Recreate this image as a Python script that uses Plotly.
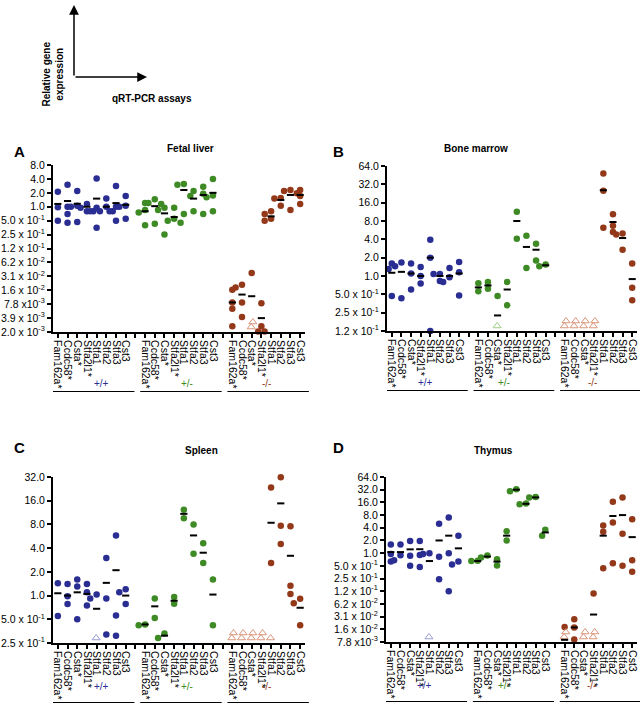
import math
import plotly.graph_objects as go

W, H = 640, 709
FONT = "Liberation Sans, Arial, sans-serif"
TICK_SIZE = 10.5

GENES = ["Fam162a*", "Ccdc58*", "Csta*", "Stfa2l1*", "Stfa1", "Stfa2", "Stfa3", "Cst3"]
GENOTYPES = ["+/+", "+/-", "-/-"]
GENO_COLORS = ["#2a2d92", "#3e8a24", "#93391a"]
ND_COLORS = ["#9a9cd6", "#9ccf84", "#d9957a"]

TICK_EXPONENTS = list(range(-9, 7))
TICK_LABELS = ["2.0 x 10<sup>-3</sup>", "3.9 x 10<sup>-3</sup>", "7.8 x10<sup>-3</sup>",
               "1.6 x 10<sup>-2</sup>", "3.1 x 10<sup>-2</sup>", "6.2 x 10<sup>-2</sup>",
               "1.2 x 10<sup>-1</sup>", "2.5 x 10<sup>-1</sup>", "5.0 x 10<sup>-1</sup>",
               "1.0", "2.0", "4.0", "8.0", "16.0", "32.0", "64.0"]

# ---------------- Fetal liver ----------------
FL_WT = [[2.1, 0.97, 0.8, 0.5], [3.0, 1.0, 0.7, 0.45], [2.2, 1.05, 1.0, 0.47], [1.15, 0.95, 0.8, 0.8],
         [4.1, 0.95, 0.8, 0.35], [1.5, 1.0, 0.8, 0.8], [2.8, 1.0, 0.8, 0.5], [1.7, 1.05, 1.0, 0.55]]
FL_WT_MEAN = [1.15, 1.33, 1.16, 1.0, 1.5, 1.0, 1.2, 1.1]
FL_HET = [[1.2, 0.85, 0.75, 0.4], [1.45, 1.2, 1.15, 0.43], [0.95, 0.85, 0.25], [0.95, 0.55, 0.5, 0.45],
          [3.1, 3.0, 0.7], [2.2, 1.7, 0.8], [2.7, 1.9, 0.7], [4.0, 1.75, 1.6, 0.8]]
FL_HET_MEAN = [0.8, 1.03, 0.72, 0.6, 2.3, 1.5, 1.8, 2.0]
FL_KO = [[0.016, 0.0085, 0.0062, 0.0026], [0.0206, 0.018, 0.0085, 0.0041], [0.037],
         [0.0082, 0.0026, 0.002, 0.002], [0.8, 0.7, 0.55, 0.5], [1.55, 1.5, 1.05],
         [2.3, 2.2, 1.95, 0.85], [2.3, 1.7, 1.15]]
FL_KO_MEAN = [0.0085, 0.0126, 0.0116, 0.0039, 0.62, 1.4, 1.8, 1.8]
FL_ND = [[0] * 8, [0] * 8, [0, 0, 2, 0, 0, 0, 0, 0]]

# ---------------- Bone marrow ----------------
BM_WT = [[1.6, 1.3, 0.47], [1.67, 1.45, 0.43], [1.6, 1.1, 0.6], [1.4, 1.0, 0.75],
         [3.95, 2.0, 0.125], [1.08, 1.08, 0.83], [1.35, 0.95, 0.8], [1.7, 1.15, 0.48]]
BM_WT_MEAN = [1.13, 1.17, 1.1, 1.0, 2.0, 1.0, 1.0, 1.1]
BM_HET = [[0.76, 0.56], [0.8, 0.62], [0.47], [0.8, 0.33], [11.4, 4.1], [4.6, 1.35], [3.4, 1.8], [1.55, 1.45]]
BM_HET_MEAN = [0.65, 0.7, 0.225, 0.6, 8.0, 3.0, 2.7, 1.5]
BM_KO = [[], [], [], [], [48, 25, 6.2], [10.3, 6.7, 5.3], [5.0, 4.8, 2.7], [1.6, 0.64, 0.4]]
BM_KO_MEAN = [None, None, None, None, 25.6, 7.7, 4.2, 0.89]
BM_ND = [[0] * 8, [0, 0, 1, 0, 0, 0, 0, 0], [2, 2, 2, 2, 0, 0, 0, 0]]

# ---------------- Spleen ----------------
SP_WT = [[1.43, 1.3, 0.55], [1.4, 0.98, 0.78], [1.6, 1.3, 0.5], [1.4, 1.1, 0.75],
         [1.03, 0.92], [3.0, 0.92, 0.32], [5.8, 0.56, 0.31], [1.2, 1.1, 0.78]]
SP_WT_MEAN = [1.07, 1.0, 1.1, 1.05, 0.68, 1.45, 2.1, 1.0]
SP_HET = [[0.43, 0.42], [0.92, 0.52], [0.33, 0.29], [0.96, 0.79], [12.3, 9.6], [8.0, 3.4], [4.6, 2.6], [1.6, 0.42]]
SP_HET_MEAN = [0.43, 0.73, 0.31, 0.86, 10.9, 5.8, 3.5, 1.03]
SP_KO = [[], [], [], [], [23.5, 2.6], [31.7, 7.7, 4.5], [7.6, 1.33, 1.05], [0.91, 0.8, 0.42]]
SP_KO_MEAN = [None, None, None, None, 8.4, 14.8, 3.2, 0.7]
SP_ND = [[0, 0, 0, 0, 1, 0, 0, 0], [0] * 8, [2, 2, 2, 2, 1, 0, 0, 0]]

# ---------------- Thymus ----------------
TH_WT = [[1.6, 0.95, 0.63], [1.6, 0.89, 0.68], [1.93, 0.87, 0.5], [1.93, 0.9, 0.47],
         [1.0, 0.95], [5.0, 0.82, 0.24], [7.0, 1.0, 0.125], [2.6, 0.63, 0.54]]
TH_WT_MEAN = [1.06, 1.06, 1.23, 1.24, 0.65, 2.0, 2.6, 1.3]
TH_HET = [[0.65, 0.66], [0.79, 0.88], [0.72, 0.51], [3.3, 2.0], [29.5, 33.0], [14.5, 15.0], [21.0, 21.5], [3.6, 2.6]]
TH_HET_MEAN = [0.65, 0.83, 0.63, 2.6, 32.0, 14.8, 21.0, 3.1]
TH_KO = [[0.0177], [0.027, 0.0173, 0.0089], [], [0.11], [4.5, 3.2, 0.44], [16.5, 5.3, 0.58],
         [21.0, 2.9, 0.5], [6.4, 0.68, 0.36]]
TH_KO_MEAN = [0.0088, 0.0173, None, 0.035, 2.6, 7.6, 8.0, 2.4]
TH_ND = [[0, 0, 0, 0, 1, 0, 0, 0], [0] * 8, [2, 0, 2, 2, 0, 0, 0, 0]]

PANELS = [
    dict(letter="A", title="Fetal liver", groups=[FL_WT, FL_HET, FL_KO],
         means=[FL_WT_MEAN, FL_HET_MEAN, FL_KO_MEAN], nd=FL_ND, exp=(-9, 3),
         box=(53, 305, 165, 332), title_xy=(165, 141), letter_xy=(12, 141)),
    dict(letter="B", title="Bone marrow", groups=[BM_WT, BM_HET, BM_KO],
         means=[BM_WT_MEAN, BM_HET_MEAN, BM_KO_MEAN], nd=BM_ND, exp=(-3, 6),
         box=(387, 637, 166, 331), title_xy=(510, 141), letter_xy=(331, 141)),
    dict(letter="C", title="Spleen", groups=[SP_WT, SP_HET, SP_KO],
         means=[SP_WT_MEAN, SP_HET_MEAN, SP_KO_MEAN], nd=SP_ND, exp=(-2, 5),
         box=(53, 305, 477, 643), title_xy=(183, 450), letter_xy=(12, 447)),
    dict(letter="D", title="Thymus", groups=[TH_WT, TH_HET, TH_KO],
         means=[TH_WT_MEAN, TH_HET_MEAN, TH_KO_MEAN], nd=TH_ND, exp=(-7, 6),
         box=(386, 637, 477, 642), title_xy=(515, 450), letter_xy=(331, 447)),
]

XMIN, XMAX = -0.5, 25.5
N_POS = 26
BAR_HALF = 0.37
DOT = 6.5


def px(x):
    return x / W


def py(y):
    return 1 - y / H


fig = go.Figure()
annotations = []
shapes = []

for k, P in enumerate(PANELS):
    sfx = "" if k == 0 else str(k + 1)
    xa, ya = "x" + sfx, "y" + sfx
    x0, x1, y0, y1 = P["box"]
    lo, hi = P["exp"]
    ylo, yhi = lo * math.log10(2), hi * math.log10(2)
    px_per_dec = (y1 - y0) / (yhi - ylo)
    px_per_cat = (x1 - x0) / (XMAX - XMIN)

    for g in range(3):
        xs, ys = [], []
        bx, by = [], []
        tx, ty = [], []
        for j in range(8):
            pos = g * 9 + j
            vals = sorted(P["groups"][g][j], reverse=True)
            placed = []
            for v in vals:
                ypix = math.log10(v) * px_per_dec
                for slot in [0, -0.33, 0.33, -0.66, 0.66]:
                    ok = True
                    for (sx, sy) in placed:
                        dx = (slot - sx) * px_per_cat
                        dy = ypix - sy
                        if dx * dx + dy * dy < (DOT - 0.5) ** 2:
                            ok = False
                            break
                    if ok:
                        break
                placed.append((slot, ypix))
                xs.append(pos + slot)
                ys.append(v)
            m = P["means"][g][j]
            if m is not None:
                bx += [pos - BAR_HALF, pos + BAR_HALF, None]
                by += [m, m, None]
            nd = P["nd"][g][j]
            base = 10 ** ylo
            for n in range(nd):
                tx.append(pos + (0.12 if n % 2 else -0.05))
                ty.append(base * 10 ** ((5 + 5 * n) / px_per_dec))
        fig.add_trace(go.Scatter(x=xs, y=ys, mode="markers", xaxis=xa, yaxis=ya,
                                 marker=dict(size=DOT, color=GENO_COLORS[g]),
                                 showlegend=False, cliponaxis=False, hoverinfo="y"))
        if tx:
            fig.add_trace(go.Scatter(x=tx, y=ty, mode="markers", xaxis=xa, yaxis=ya,
                                     marker=dict(size=7, symbol="triangle-up-open",
                                                 color=ND_COLORS[g], line=dict(width=1)),
                                     showlegend=False, cliponaxis=False, hoverinfo="skip"))
        if bx:
            fig.add_trace(go.Scatter(x=bx, y=by, mode="lines", xaxis=xa, yaxis=ya,
                                     line=dict(color="black", width=2),
                                     showlegend=False, cliponaxis=False, hoverinfo="skip"))

        # genotype label and underline
        gx0 = g * 9
        cx = x0 + (gx0 + 3.5 - XMIN) * px_per_cat
        annotations.append(dict(x=px(cx), y=py(y1 + 51), xref="paper", yref="paper",
                                text=GENOTYPES[g], showarrow=False,
                                font=dict(size=10, color=GENO_COLORS[g], family=FONT)))
        lx0 = x0 + (gx0 - 0.5 - XMIN) * px_per_cat
        lx1 = x0 + (gx0 + 7.9 - XMIN) * px_per_cat
        ly = round(y1 + 59) + 0.5
        shapes.append(dict(type="line", xref="paper", yref="paper",
                           x0=px(lx0), x1=px(lx1), y0=py(ly), y1=py(ly),
                           line=dict(color="black", width=1)))

    tickvals_x = list(range(N_POS))
    ticktext_x = []
    for p in range(N_POS):
        ticktext_x.append(GENES[p % 9] if p % 9 < 8 else "")

    exps = [e for e in TICK_EXPONENTS if lo <= e <= hi]
    fig.update_layout(**{
        "xaxis" + sfx: dict(domain=[px(x0), px(x1)], anchor=ya, range=[XMIN, XMAX],
                            tickvals=tickvals_x, ticktext=ticktext_x, tickangle=90,
                            showline=True, linewidth=2, linecolor="black",
                            ticks="outside", ticklen=4, tickwidth=1.5, tickcolor="black",
                            showgrid=False, zeroline=False, automargin=False,
                            tickfont=dict(size=TICK_SIZE, color="black", family=FONT)),
        "yaxis" + sfx: dict(domain=[py(y1), py(y0)], anchor=xa, type="log", range=[ylo, yhi],
                            tickvals=[2.0 ** e for e in exps],
                            ticktext=[TICK_LABELS[TICK_EXPONENTS.index(e)] for e in exps],
                            showline=True, linewidth=2, linecolor="black",
                            ticks="outside", ticklen=4, tickwidth=1.5, tickcolor="black",
                            showgrid=False, zeroline=False, automargin=False,
                            tickfont=dict(size=TICK_SIZE, color="black", family=FONT)),
    })

    annotations.append(dict(x=px(P["title_xy"][0]), y=py(P["title_xy"][1]), xref="paper", yref="paper",
                            text="<b>" + P["title"] + "</b>", showarrow=False,
                            font=dict(size=10, color="black", family=FONT)))
    annotations.append(dict(x=px(P["letter_xy"][0]), y=py(P["letter_xy"][1]), xref="paper", yref="paper",
                            text="<b>" + P["letter"] + "</b>", showarrow=False, xanchor="left",
                            font=dict(size=15, color="black", family=FONT)))

# key diagram
annotations.append(dict(x=px(74), y=py(5), xref="paper", yref="paper", text="",
                        showarrow=True, ax=0, ay=72, arrowhead=2, arrowsize=1.3,
                        arrowwidth=1.5, arrowcolor="black"))
annotations.append(dict(x=px(147), y=py(77), xref="paper", yref="paper", text="",
                        showarrow=True, ax=-73, ay=0, arrowhead=2, arrowsize=1.3,
                        arrowwidth=1.5, arrowcolor="black"))
annotations.append(dict(x=px(38), y=py(40), xref="paper", yref="paper",
                        text="<b>Relative gene<br>expression</b>", textangle=-90,
                        showarrow=False, font=dict(size=10, color="black", family=FONT)))
annotations.append(dict(x=px(110), y=py(91), xref="paper", yref="paper",
                        text="<b>qRT-PCR assays</b>", showarrow=False,
                        font=dict(size=10, color="black", family=FONT)))

fig.update_layout(width=W, height=H, margin=dict(l=0, r=0, t=0, b=0, autoexpand=False),
                  paper_bgcolor="white", plot_bgcolor="white",
                  annotations=annotations, shapes=shapes, showlegend=False,
                  font=dict(family=FONT))

fig.write_html("out.html", config={"displayModeBar": False},
               post_script="document.body.style.margin='0px';document.body.style.padding='0px';")
